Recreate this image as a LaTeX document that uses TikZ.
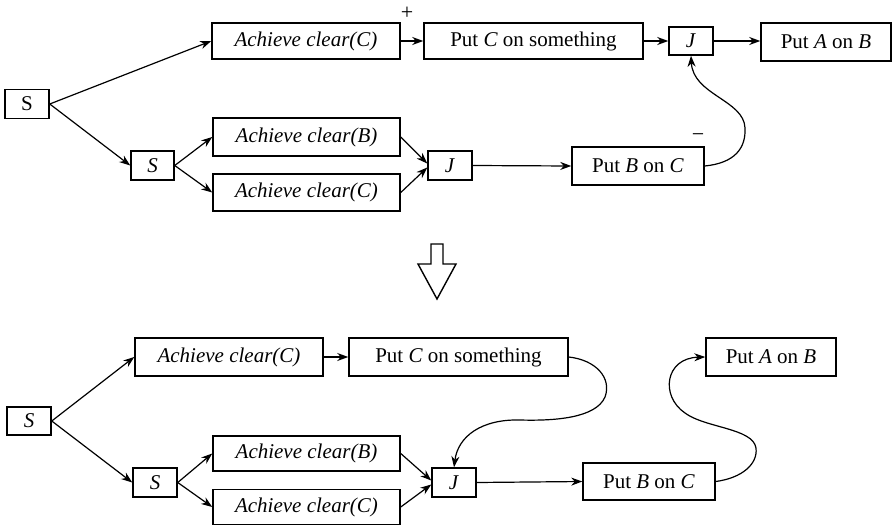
\documentclass[tikz,border=0pt]{standalone}
\usepackage{fontspec}
\setmainfont{Liberation Serif}
\usetikzlibrary{arrows.meta}
\begin{document}
\begin{tikzpicture}[x=1pt,y=-1pt,
  box/.style={draw,line width=1.5pt,inner sep=0pt,font=\fontsize{21}{25}\selectfont},
  conn/.style={line width=1.2pt,-{Stealth[length=11pt,width=8pt]}},
  curv/.style={line width=1.2pt,-{Stealth[length=11pt,width=8pt]}},
  sign/.style={inner sep=0pt,font=\fontsize{22}{22}\selectfont}]
\useasboundingbox (0,0) rectangle (892,525);

% ---------- top panel ----------
\node[box,minimum width=44pt,minimum height=29pt] (S1) at (27,104) {S};
\node[box,minimum width=188pt,minimum height=36pt] (AC1) at (306,41) {\textit{Achieve clear(C)}};
\node[box,minimum width=219pt,minimum height=36pt] (PC1) at (533.5,41) {Put \textit{C} on something};
\node[box,minimum width=44pt,minimum height=28pt] (J1) at (691,41) {\textit{J}};
\node[box,minimum width=130pt,minimum height=38pt] (PA1) at (826,42) {Put \textit{A} on \textit{B}};
\node[box,minimum width=43pt,minimum height=29pt] (S2) at (152.5,165.5) {\textit{S}};
\node[box,minimum width=187pt,minimum height=38pt] (ACB1) at (306.5,137) {\textit{Achieve clear(B)}};
\node[box,minimum width=187pt,minimum height=37pt] (ACC1) at (306.5,192.5) {\textit{Achieve clear(C)}};
\node[box,minimum width=44pt,minimum height=29pt] (J2) at (450,165.5) {\textit{J}};
\node[box,minimum width=132pt,minimum height=38pt] (PB1) at (638,166) {Put \textit{B} on \textit{C}};
\node[sign] (plus) at (407,13) {+};
\node[sign] (minus) at (698,138) {−};

\draw[conn] (S1.east) -- (AC1.west);
\draw[conn] (S1.east) -- (S2.west);
\draw[conn] (S2.east) -- (ACB1.west);
\draw[conn] (S2.east) -- (ACC1.west);
\draw[conn] (ACB1.east) -- ([yshift=2pt]J2.west);
\draw[conn] (ACC1.east) -- ([yshift=-2pt]J2.west);
\draw[conn] (AC1.east) -- (PC1.west);
\draw[conn] (PC1.east) -- (J1.west);
\draw[conn] (J1.east) -- (PA1.west |- J1.east);
\draw[conn] (J2.east) -- (PB1.west);
\draw[curv] (PB1.east) .. controls (735,163) and (746,148) .. (745,128)
  .. controls (744,100) and (693,95) .. (J1.south);

% ---------- hollow arrow ----------
\draw[line width=1.4pt] (431,244) -- (443,244) -- (443,264) -- (456,264) -- (437,299) -- (418,264) -- (431,264) -- cycle;

% ---------- bottom panel ----------
\node[box,minimum width=44pt,minimum height=28pt] (S3) at (29,421) {\textit{S}};
\node[box,minimum width=188pt,minimum height=38pt] (AC3) at (229,357) {\textit{Achieve clear(C)}};
\node[box,minimum width=219pt,minimum height=38pt] (PC3) at (458.5,357) {Put \textit{C} on something};
\node[box,minimum width=130pt,minimum height=38pt] (PA3) at (771,357) {Put \textit{A} on \textit{B}};
\node[box,minimum width=44pt,minimum height=29pt] (S4) at (155,482.5) {\textit{S}};
\node[box,minimum width=187pt,minimum height=35pt] (ACB3) at (306.5,453.5) {\textit{Achieve clear(B)}};
\node[box,minimum width=187pt,minimum height=35pt] (ACC3) at (306.5,507) {\textit{Achieve clear(C)}};
\node[box,minimum width=44pt,minimum height=29pt] (J3) at (454,482.5) {\textit{J}};
\node[box,minimum width=132pt,minimum height=37pt] (PB3) at (649,481.5) {Put \textit{B} on \textit{C}};

\draw[conn] (S3.east) -- (AC3.west);
\draw[conn] (S3.east) -- (S4.west);
\draw[conn] (S4.east) -- (ACB3.west);
\draw[conn] (S4.east) -- (ACC3.west);
\draw[conn] (ACB3.east) -- ([yshift=2pt]J3.west);
\draw[conn] (ACC3.east) -- ([yshift=-2pt]J3.west);
\draw[conn] (AC3.east) -- (PC3.west);
\draw[conn] (J3.east) -- (PB3.west);
\draw[curv] (PC3.east) .. controls (596,360) and (612,378) .. (605,397)
  .. controls (596,418) and (555,421) .. (520,420)
  .. controls (482,419) and (458,436) .. (J3.north);
\draw[curv] (PB3.east) .. controls (742,478) and (758,464) .. (756,448)
  .. controls (753,428) and (705,428) .. (685,413)
  .. controls (660,396) and (665,358) .. (PA3.west);
\end{tikzpicture}
\end{document}
